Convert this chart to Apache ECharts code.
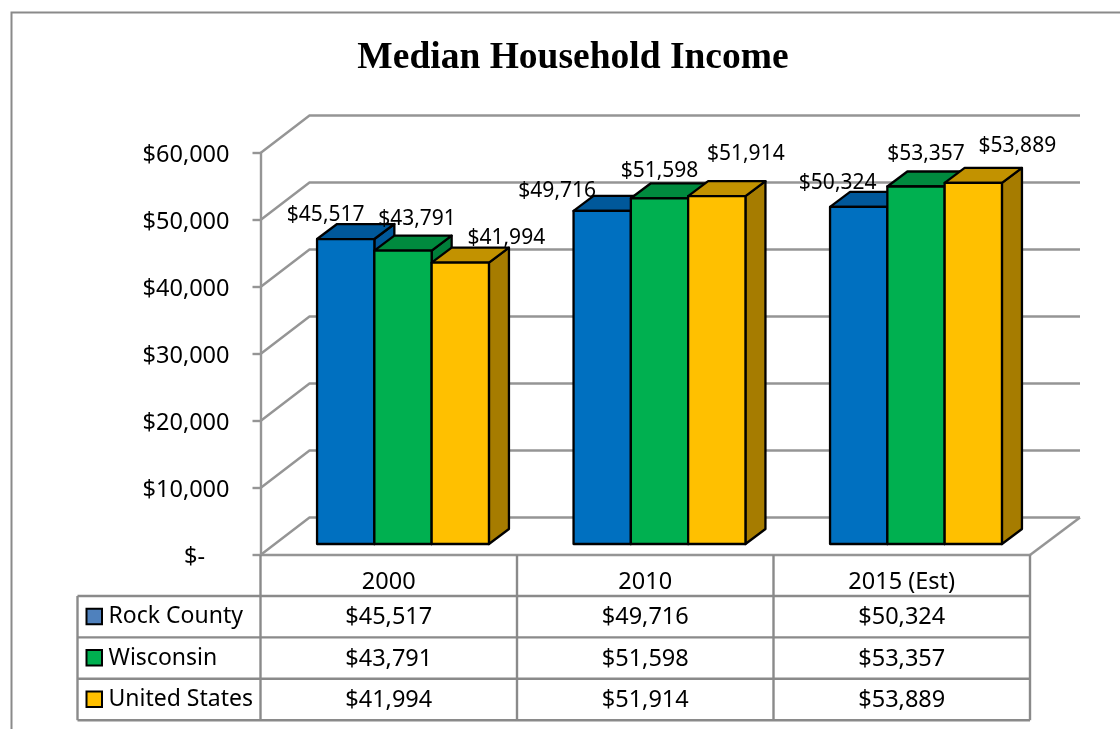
<!DOCTYPE html>
<html>
<head>
<meta charset="utf-8">
<style>html,body{margin:0;padding:0;background:#fff}#c{width:1120px;height:729px}</style>
<script src="https://cdn.jsdelivr.net/npm/echarts@6/dist/echarts.min.js"></script>
</head>
<body>
<div id="c"></div>
<script>
const categories = ['2000', '2010', '2015 (Est)'];
const rockCounty = [45517, 49716, 50324];
const wisconsin = [43791, 51598, 53357];
const unitedStates = [41994, 51914, 53889];
const seriesNames = ['Rock County', 'Wisconsin', 'United States'];
const yTicks = [0, 10000, 20000, 30000, 40000, 50000, 60000];

const allValues = [rockCounty, wisconsin, unitedStates];
const FONT = '"Noto Sans", sans-serif';
const GRID = '#959595';
const TABLE = '#8a8a8a';
const INK = '#000';
const faces = [
  { front: '#0070C0', top: '#00589A', side: '#00589A', swatch: '#4F81BD' },
  { front: '#00B050', top: '#008A3E', side: '#007F3A', swatch: '#00B050' },
  { front: '#FFC000', top: '#C29200', side: '#A67C00', swatch: '#FFC000' }
];
// hand-placed data label offsets relative to each bar's top centre [series][category]
const labelShift = [
  [[-20, -24], [-45, -20], [-21, -24]],
  [[14, -32], [0, -27], [10, -32]],
  [[46, -25], [29, -42], [44, -37]]
];
const fmt = v => '$' + v.toLocaleString('en-US');
const WALL = [49, -37.5], BAR_SHIFT = [14.25, -11], BAR_W = 57.3, DEPTH = [20, -15];

function barBox(api, s, c, v) {
  const p = api.coord([c, v]);
  const z = api.coord([c, 0]);
  const x0 = p[0] + BAR_SHIFT[0] + (s - 1.5) * BAR_W;
  return { x0, x1: x0 + BAR_W, top: p[1] + BAR_SHIFT[1], bot: z[1] + BAR_SHIFT[1] };
}

function barSeries(s) {
  return {
    type: 'custom', name: seriesNames[s], z: 3 + s,
    data: allValues[s].map((v, c) => [c, v]),
    encode: { x: 0, y: 1 },
    renderItem(params, api) {
      const b = barBox(api, s, api.value(0), api.value(1));
      const st = fill => ({ fill, stroke: '#000', lineWidth: 2.3, lineJoin: 'round' });
      const [dx, dy] = DEPTH;
      return {
        type: 'group',
        children: [
          { type: 'polygon', shape: { points: [[b.x1, b.top], [b.x1 + dx, b.top + dy], [b.x1 + dx, b.bot + dy], [b.x1, b.bot]] }, style: st(faces[s].side) },
          { type: 'polygon', shape: { points: [[b.x0, b.top], [b.x0 + dx, b.top + dy], [b.x1 + dx, b.top + dy], [b.x1, b.top]] }, style: st(faces[s].top) },
          { type: 'rect', shape: { x: b.x0, y: b.top, width: BAR_W, height: b.bot - b.top }, style: st(faces[s].front) }
        ]
      };
    }
  };
}

const labelSeries = {
  type: 'custom', z: 10, silent: true,
  data: allValues.flatMap((vals, s) => vals.map((v, c) => [c, v, s])),
  encode: { x: 0, y: 1 },
  renderItem(params, api) {
    const c = api.value(0), v = api.value(1), s = api.value(2);
    const b = barBox(api, s, c, v);
    const off = labelShift[s][c];
    return {
      type: 'text',
      style: {
        x: (b.x0 + b.x1) / 2 + off[0], y: b.top + off[1], text: fmt(v),
        font: '21px ' + FONT, fill: INK, textAlign: 'center', textVerticalAlign: 'middle'
      }
    };
  }
};

const wallSeries = {
  type: 'custom', z: 1, silent: true,
  data: [[0, 0]],
  encode: { x: 0, y: 1 },
  renderItem(params, api) {
    const st = { stroke: GRID, lineWidth: 2.4, fill: null };
    const left = api.coord([0, 0])[0] - api.size([1, 0])[0] / 2;
    const right = left + api.size([1, 0])[0] * categories.length;
    const children = [];
    yTicks.forEach(t => {
      const y = api.coord([0, t])[1];
      children.push({
        type: 'polyline',
        shape: { points: [[left, y], [left + WALL[0], y + WALL[1]], [right + WALL[0] + 1, y + WALL[1]]] },
        style: st
      });
    });
    const y0 = api.coord([0, 0])[1];
    children.push({ type: 'line', shape: { x1: right, y1: y0, x2: right + WALL[0] + 1, y2: y0 + WALL[1] }, style: st });
    return { type: 'group', children };
  }
};

const tableSeries = {
  type: 'custom', z: 2, silent: true,
  data: [[0, 0]],
  encode: { x: 0, y: 1 },
  renderItem(params, api) {
    const band = api.size([1, 0])[0];
    const left = api.coord([0, 0])[0] - band / 2;
    const right = left + band * categories.length;
    const y0 = api.coord([0, 0])[1];
    const rowY = i => y0 + 41 + i * 41.4;
    const legendX = left - 183;
    const st = { stroke: TABLE, lineWidth: 2.4, fill: null };
    const ch = [];
    for (let i = 0; i <= 3; i++) {
      ch.push({ type: 'line', shape: { x1: legendX, y1: rowY(i), x2: right, y2: rowY(i) }, style: st });
    }
    for (let k = 0; k <= 3; k++) {
      const x = left + k * band;
      ch.push({ type: 'line', shape: { x1: x, y1: y0, x2: x, y2: rowY(3) }, style: st });
    }
    ch.push({ type: 'line', shape: { x1: legendX, y1: rowY(0), x2: legendX, y2: rowY(3) }, style: st });
    seriesNames.forEach((name, s) => {
      const cy = (rowY(s) + rowY(s + 1)) / 2;
      ch.push({ type: 'rect', shape: { x: legendX + 9, y: cy - 8, width: 15.5, height: 15.5 }, style: { fill: faces[s].swatch, stroke: '#000', lineWidth: 2 } });
      ch.push({ type: 'text', style: { x: legendX + 31, y: cy, text: name, font: '23px ' + FONT, fill: INK, textAlign: 'left', textVerticalAlign: 'middle' } });
      allValues[s].forEach((v, c) => {
        ch.push({ type: 'text', style: { x: left + (c + 0.5) * band, y: cy + 1, text: fmt(v), font: '23.5px ' + FONT, fill: INK, textAlign: 'center', textVerticalAlign: 'middle' } });
      });
    });
    return { type: 'group', children: ch };
  }
};

const chart = echarts.init(document.getElementById('c'), null, { renderer: 'canvas' });
chart.setOption({
  animation: false,
  backgroundColor: '#fff',
  title: {
    text: 'Median Household Income', left: 568, top: 34, textAlign: 'center',
    textStyle: { fontFamily: '"Liberation Serif", serif', fontWeight: 'bold', fontSize: 37.5, color: '#000' }
  },
  grid: { left: 260.5, right: 90, top: 153, bottom: 174 },
  xAxis: {
    type: 'category', data: categories,
    axisLine: { lineStyle: { color: GRID, width: 2.4 } },
    axisTick: { show: false },
    axisLabel: { color: INK, fontFamily: FONT, fontSize: 23.5, margin: 15 }
  },
  yAxis: {
    type: 'value', min: 0, max: 60000, interval: 10000,
    axisLine: { show: true, lineStyle: { color: GRID, width: 2.4 } },
    axisTick: { show: true, length: 8, lineStyle: { color: GRID, width: 2.4 } },
    splitLine: { show: false },
    axisLabel: {
      color: INK, fontFamily: FONT, fontSize: 23.5, margin: 31,
      formatter: v => '{t|' + (v === 0 ? '$-\u00a0\u00a0\u00a0\u00a0' : fmt(v)) + '}',
      rich: { t: { color: INK, fontFamily: FONT, fontSize: 23.5, padding: [4, 0, 0, 0] } }
    }
  },
  graphic: [
    { type: 'polyline', silent: true, shape: { points: [[11.5, 729], [11.5, 12.5], [1120, 12.5]] }, style: { stroke: '#8a8a8a', lineWidth: 2, fill: null } }
  ],
  series: [wallSeries, tableSeries, barSeries(0), barSeries(1), barSeries(2), labelSeries]
});
</script>
</body>
</html>
